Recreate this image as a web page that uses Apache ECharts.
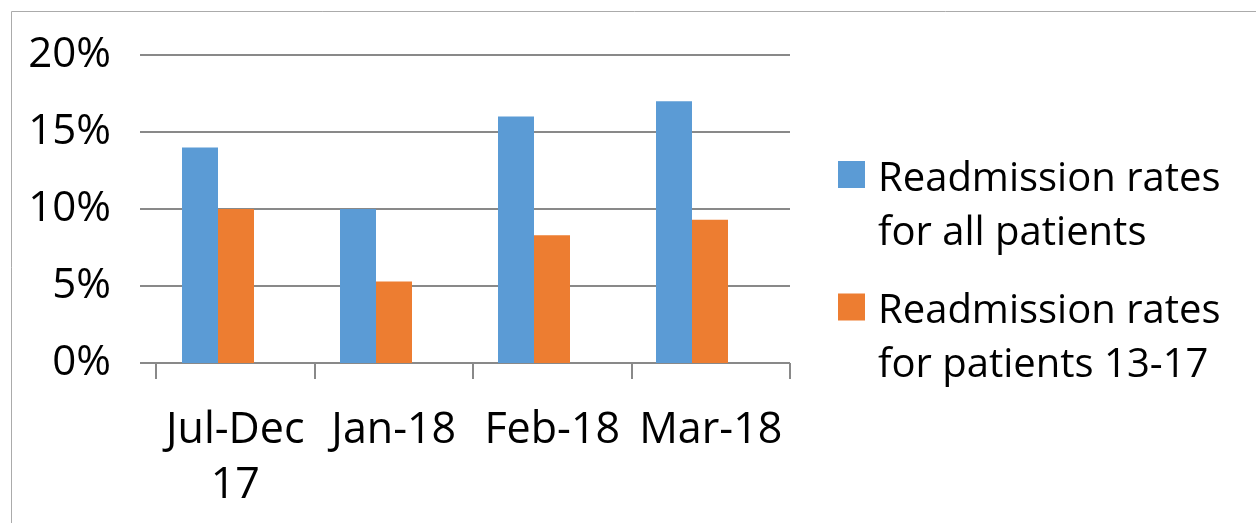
<!DOCTYPE html>
<html>
<head>
<meta charset="utf-8">
<script src="https://cdn.jsdelivr.net/npm/echarts@6/dist/echarts.min.js"></script>
<style>
  html, body { margin: 0; padding: 0; background: #fff; }
  #chart { width: 1256px; height: 523px; }
</style>
</head>
<body>
<div id="chart"></div>
<script>
var categories = ['Jul-Dec\n17', 'Jan-18', 'Feb-18', 'Mar-18'];
var seriesNames = ['Readmission rates\nfor all patients', 'Readmission rates\nfor patients 13-17'];
var allPatients = [14, 10, 16, 17];
var patients1317 = [10, 5.3, 8.3, 9.3];
var yTicks = [0, 5, 10, 15, 20];

var font = 'Open Sans';
var gridColor = '#898989';

// square at the top of a tall box, so the swatch sits level with the first text line
var legendIcon = 'path://M0,0h0.1M0,8.5h27v27h-27zM0,108h0.1';

var chart = echarts.init(document.getElementById('chart'));

function legendFor(name, top) {
  return {
    data: [name],
    orient: 'vertical',
    left: 838,
    top: top,
    padding: 0,
    icon: legendIcon,
    itemWidth: 27,
    itemHeight: 108,
    selectedMode: false,
    textStyle: {
      fontFamily: font, fontSize: 40, color: '#000', lineHeight: 54,
      padding: [0, 0, 0, 8]
    }
  };
}

var option = {
  animation: false,
  color: ['#5B9BD5', '#ED7D31'],
  graphic: [{
    type: 'rect',
    shape: { x: 11.5, y: 11.5, width: 1300, height: 600 },
    style: { fill: 'none', stroke: '#ababab', lineWidth: 1 },
    silent: true
  }],
  legend: [legendFor(seriesNames[0], 152.5), legendFor(seriesNames[1], 285)],
  grid: [
    { left: 140, right: 466, top: 55, bottom: 160 }, // gridlines + y labels
    { left: 156, right: 466, top: 55, bottom: 160 }, // tick marks + x labels
    { left: 139, right: 485, top: 55, bottom: 160 }  // bars
  ],
  xAxis: [
    { gridIndex: 0, type: 'value', show: false },
    {
      gridIndex: 1, type: 'category', data: categories,
      axisLine: { show: false },
      axisTick: { show: true, length: 16, lineStyle: { color: gridColor, width: 2 } },
      axisLabel: {
        interval: 0, margin: 40, fontFamily: font, fontSize: 43, color: '#000',
        lineHeight: 55
      }
    },
    {
      gridIndex: 2, type: 'category', data: categories,
      axisLine: { show: false },
      axisTick: { show: false },
      axisLabel: { show: false }
    }
  ],
  yAxis: [
    {
      gridIndex: 0, type: 'value', min: yTicks[0], max: yTicks[yTicks.length - 1], interval: 5,
      axisLine: { show: false }, axisTick: { show: false },
      splitLine: { lineStyle: { color: gridColor, width: 2 } },
      axisLabel: {
        margin: 29, fontFamily: font, fontSize: 42, color: '#000', formatter: '{value}%',
        padding: [6, 0, 0, 0]
      }
    },
    { gridIndex: 1, type: 'value', min: 0, max: 20, show: false },
    { gridIndex: 2, type: 'value', min: 0, max: 20, show: false }
  ],
  series: [
    {
      name: seriesNames[0], type: 'bar', xAxisIndex: 2, yAxisIndex: 2,
      data: allPatients, barWidth: 36, barGap: '0%'
    },
    {
      name: seriesNames[1], type: 'bar', xAxisIndex: 2, yAxisIndex: 2,
      data: patients1317, barWidth: 36, barGap: '0%'
    }
  ]
};

chart.setOption(option);
</script>
</body>
</html>
